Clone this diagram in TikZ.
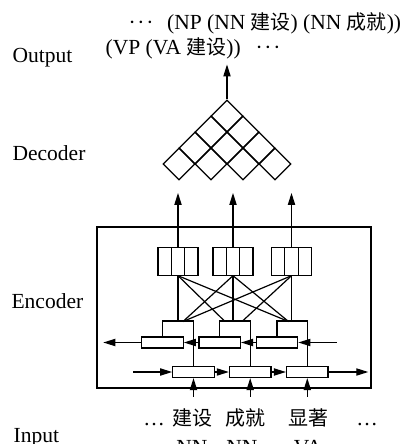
\documentclass[tikz,border=0pt]{standalone}
\usepackage{fontspec}
\setmainfont{Liberation Serif}
\newfontfamily\cjk[Scale=0.93]{Noto Sans CJK SC}
\newcommand{\zh}[1]{{\cjk #1}}
\newcommand{\middots}{·\kern0.08em·\kern0.08em·}
\usepackage{tikz}
\usetikzlibrary{arrows.meta,shapes.geometric}

\begin{document}
\begin{tikzpicture}[x=0.5pt,y=-0.5pt,semithick,>={Triangle[length=6pt,width=3.6pt]},
  every node/.style={font=\fontsize{10.75pt}{14pt}\selectfont},
  txt/.style={inner sep=0pt,anchor=base},
  lbl/.style={inner sep=0pt,anchor=base west},
  cell/.style={draw,diamond,minimum width=16pt,minimum height=16pt,inner sep=0pt},
  slot/.style={draw,minimum width=20pt,minimum height=13.8pt,inner sep=0pt,
    path picture={\foreach \k in {-3.4pt,3.4pt}
      \draw ([xshift=\k]path picture bounding box.north) -- ([xshift=\k]path picture bounding box.south);}},
  lstm/.style={draw,minimum width=20.75pt,minimum height=5.5pt,inner sep=0pt}]
\useasboundingbox (0,0) rectangle (408,444);
% labels
\node[lbl] (lout) at (12,63) {Output};
\node[lbl] (ldec) at (12,161) {Decoder};
\node[lbl] (lenc) at (11,308.5) {Encoder};
\node[lbl] (lin) at (13,442.5) {Input};
% output
\node[txt] (od1) at (141,30) {\middots};
\node[lbl] (o1) at (166.5,30) {(NP (NN \zh{建设}) (NN \zh{成就}))};
\node[lbl] (o2) at (105,55) {(VP (VA \zh{建设}))};
\node[txt] (od2) at (268,55) {\middots};
% decoder
\foreach \r in {0,...,3}
  \foreach \c in {0,...,\r}
    \node[cell] (d\r\c) at ({227+(2*\c-\r)*16},{116+16*\r}) {};
\draw[->] (d00.north) -- ++(0,-35);
% encoder
\draw (97,227) rectangle (371,388);
\foreach \i/\x in {1/178,2/233,3/291.5} {
  \node[slot] (c\i) at (\x,261.3) {};
  \draw[->] (c\i.north) -- ++(0,-54);
}
\foreach \i/\x/\y in {1/162.5/193.5,2/219.7/250.2,3/277/307.3} {
  \node[lstm] (b\i) at (\x,342.5) {};
  \node[lstm] (f\i) at (\y,372) {};
  \draw (b\i.north) -- ++(0,-15.5) -| (f\i.north);
  \draw[<-] (f\i.south) -- ++(0,19);
}
\foreach \n/\x in {11/178,21/183,31/183,12/225,22/233,32/242,13/288.5,23/288.5,33/291.5}
  \coordinate (k\n) at (\x,321.5);
\foreach \i in {1,2,3}
  \foreach \j in {1,2,3}
    \draw (c\i.south) -- (k\i\j);
\coordinate (bin) at (336.7,342.5);
\coordinate (bout) at (103.3,342.5);
\coordinate (fin) at (133.3,372);
\coordinate (fout) at (368.3,372);
\draw[->] (bin) -- (b3.east);
\draw[->] (b3.west) -- (b2.east);
\draw[->] (b2.west) -- (b1.east);
\draw[->] (b1.west) -- (bout);
\draw[->] (fin) -- (f1.west);
\draw[->] (f1.east) -- (f2.west);
\draw[->] (f2.east) -- (f3.west);
\draw[->] (f3.east) -- (fout);
% input
\node[txt] (w0) at (154,425) {\ldots};
\node[txt] (w1) at (192,425) {\zh{建设}};
\node[txt] (w2) at (245,425) {\zh{成就}};
\node[txt] (w3) at (308,425) {\zh{显著}};
\node[txt] (w4) at (367,425) {\ldots};
\node[txt] (p1) at (192,454) {NN};
\node[txt] (p2) at (242,454) {NN};
\node[txt] (p3) at (308,454) {VA};
\end{tikzpicture}
\end{document}
